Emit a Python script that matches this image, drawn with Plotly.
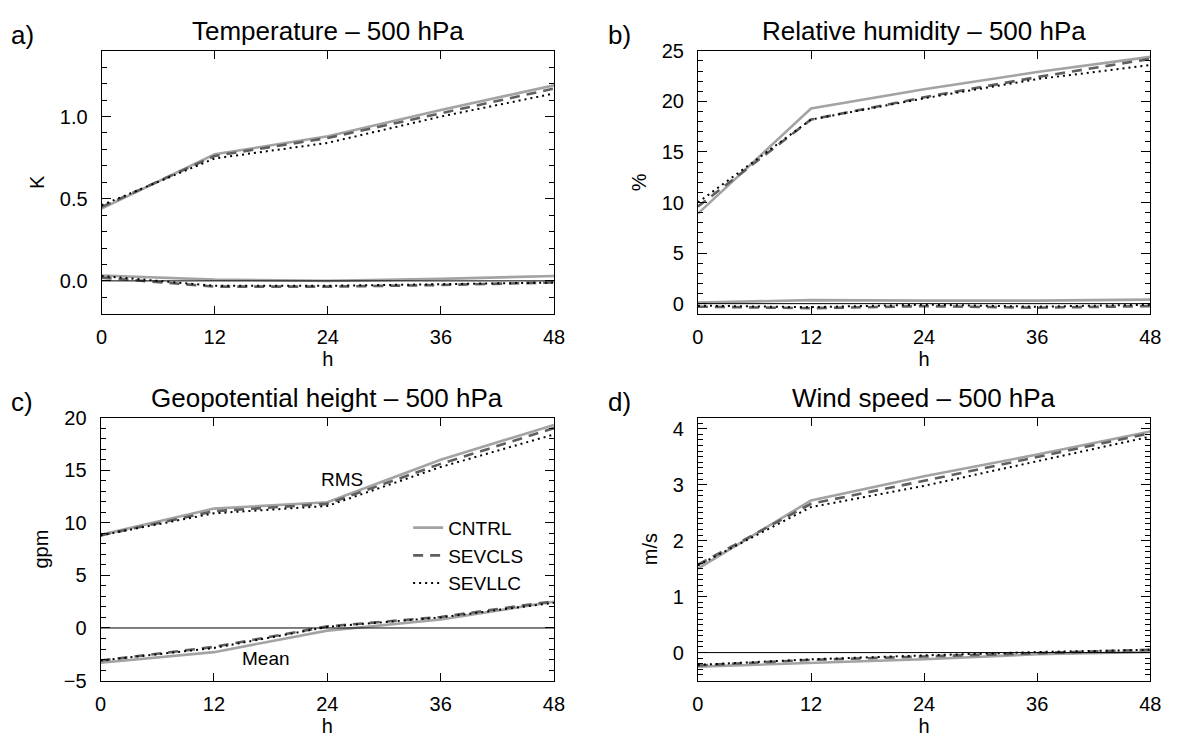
import plotly.graph_objects as go

hours = [0, 12, 24, 36, 48]
x_ticks = [0, 12, 24, 36, 48]

# a) Temperature – 500 hPa (K)
t_rms_cntrl = [0.44, 0.77, 0.88, 1.04, 1.19]
t_rms_sevcls = [0.45, 0.76, 0.87, 1.02, 1.17]
t_rms_sevllc = [0.46, 0.745, 0.84, 1.00, 1.14]
t_mean_cntrl = [0.033, 0.008, 0.0, 0.012, 0.03]
t_mean_sevcls = [0.02, -0.035, -0.035, -0.025, -0.01]
t_mean_sevllc = [0.03, -0.03, -0.03, -0.02, -0.01]

# b) Relative humidity – 500 hPa (%)
rh_rms_cntrl = [8.9, 19.3, 21.2, 22.9, 24.4]
rh_rms_sevcls = [9.6, 18.2, 20.4, 22.4, 24.2]
rh_rms_sevllc = [10.0, 18.2, 20.3, 22.2, 23.6]
rh_mean_cntrl = [0.1, 0.35, 0.3, 0.3, 0.4]
rh_mean_sevcls = [-0.3, -0.45, -0.25, -0.4, -0.25]
rh_mean_sevllc = [-0.2, -0.35, -0.1, -0.3, -0.1]

# c) Geopotential height – 500 hPa (gpm)
z_rms_cntrl = [8.85, 11.35, 11.95, 16.0, 19.3]
z_rms_sevcls = [8.8, 11.1, 11.8, 15.6, 19.0]
z_rms_sevllc = [8.8, 10.9, 11.6, 15.3, 18.4]
z_mean_cntrl = [-3.3, -2.3, -0.25, 0.8, 2.5]
z_mean_sevcls = [-3.1, -1.8, 0.15, 1.05, 2.55]
z_mean_sevllc = [-3.1, -1.9, 0.1, 1.0, 2.4]

# d) Wind speed – 500 hPa (m/s)
w_rms_cntrl = [1.5, 2.72, 3.15, 3.54, 3.95]
w_rms_sevcls = [1.57, 2.66, 3.07, 3.5, 3.92]
w_rms_sevllc = [1.56, 2.6, 2.98, 3.42, 3.86]
w_mean_cntrl = [-0.25, -0.19, -0.12, -0.03, 0.01]
w_mean_sevcls = [-0.23, -0.13, -0.07, -0.005, 0.05]
w_mean_sevllc = [-0.22, -0.12, -0.05, 0.01, 0.05]

experiments = ["CNTRL", "SEVCLS", "SEVLLC"]
panel_titles = ["Temperature – 500 hPa", "Relative humidity – 500 hPa",
                "Geopotential height – 500 hPa", "Wind speed – 500 hPa"]
panel_letters = ["a)", "b)", "c)", "d)"]
y_units = ["K", "%", "gpm", "m/s"]
y_ranges = [[-0.2, 1.4], [-1, 25], [-5, 20], [-0.5, 4.2]]
y_dticks = [0.5, 5, 5, 1]
y_minor = [0.1, 1, 1, 0.1]
y_formats = [".1f", "d", "d", "d"]

panels = [
    [[t_rms_cntrl, t_rms_sevcls, t_rms_sevllc], [t_mean_cntrl, t_mean_sevcls, t_mean_sevllc]],
    [[rh_rms_cntrl, rh_rms_sevcls, rh_rms_sevllc], [rh_mean_cntrl, rh_mean_sevcls, rh_mean_sevllc]],
    [[z_rms_cntrl, z_rms_sevcls, z_rms_sevllc], [z_mean_cntrl, z_mean_sevcls, z_mean_sevllc]],
    [[w_rms_cntrl, w_rms_sevcls, w_rms_sevllc], [w_mean_cntrl, w_mean_sevcls, w_mean_sevllc]],
]

W, H = 1182, 743
FONT = "Liberation Sans, Arial, Helvetica, sans-serif"

styles = {
    "CNTRL": dict(color="#a3a3a3", width=2.6, dash="solid"),
    "SEVCLS": dict(color="#5f5f5f", width=2.6, dash="10px,7px"),
    "SEVLLC": dict(color="#000000", width=2.0, dash="2px,4px"),
}

# pixel boxes of the four plot areas (left, right, top, bottom)
boxes = [(97, 556, 41, 312), (702, 1161, 41, 312),
         (96, 556, 419, 690), (702, 1161, 419, 690)]

fig = go.Figure()
layout = dict(width=W, height=H, margin=dict(l=0, r=0, t=0, b=0),
              paper_bgcolor="white", plot_bgcolor="white",
              font=dict(family=FONT, size=20, color="black"),
              showlegend=True)
annotations = []
shapes = []

for i in range(4):
    l, r, t, b = boxes[i]
    xd = [l / W, r / W]
    yd = [1 - b / H, 1 - t / H]
    sx = "" if i == 0 else str(i + 1)
    xa, ya = "x" + sx, "y" + sx
    for kind in range(2):
        for j, name in enumerate(experiments):
            st = styles[name]
            fig.add_trace(go.Scatter(
                x=hours, y=panels[i][kind][j], mode="lines", name=name,
                xaxis=xa, yaxis=ya, legendgroup=name,
                showlegend=(i == 2 and kind == 0),
                line=dict(color=st["color"], width=st["width"], dash=st["dash"]),
                hoverinfo="skip"))
    axis_common = dict(showgrid=False, zeroline=False, showline=True,
                       linecolor="black", linewidth=1, mirror="allticks",
                       ticks="inside", tickcolor="black", tickwidth=1,
                       tickfont=dict(size=20, family=FONT))
    layout["xaxis" + sx] = dict(axis_common, domain=xd, anchor=ya,
                                range=[0, 48], tickvals=x_ticks, ticklen=8,
                                ticklabelstandoff=5,
                                title=dict(text="h", font=dict(size=20), standoff=0))
    layout["yaxis" + sx] = dict(axis_common, domain=yd, anchor=xa,
                                range=y_ranges[i], dtick=y_dticks[i], tick0=0,
                                tickformat=y_formats[i], ticklen=9,
                                ticklabelstandoff=9,
                                minor=dict(dtick=y_minor[i], tick0=0, ticks="inside",
                                           ticklen=5, tickcolor="black", tickwidth=1),
                                title=dict(text=y_units[i], font=dict(size=20), standoff=9))
    # zero reference line
    shapes.append(dict(type="line", xref=xa + " domain", yref=ya, x0=0, x1=1,
                       y0=0, y1=0, line=dict(color="black", width=1)))
    # panel title
    annotations.append(dict(text=panel_titles[i], xref="paper", yref="paper",
                            x=(l + r) / 2 / W, y=1 - (t - 20) / H,
                            xanchor="center", yanchor="middle", showarrow=False,
                            font=dict(size=26, family=FONT)))
    annotations.append(dict(text=panel_letters[i], xref="paper", yref="paper",
                            x=(3 if i % 2 == 0 else 609) / W, y=1 - (t - 16) / H,
                            xanchor="left", yanchor="middle", showarrow=False,
                            font=dict(size=26, family=FONT)))

annotations.append(dict(text="RMS", xref="x3", yref="y3", x=25.6, y=14.1,
                        showarrow=False, font=dict(size=19, family=FONT)))
annotations.append(dict(text="Mean", xref="x3", yref="y3", x=17.5, y=-2.9,
                        showarrow=False, font=dict(size=19, family=FONT)))

layout["annotations"] = annotations
layout["shapes"] = shapes
layout["legend"] = dict(x=408 / W, y=1 - 513 / H, xanchor="left", yanchor="top",
                        bgcolor="rgba(0,0,0,0)", borderwidth=0,
                        font=dict(size=19, family=FONT), tracegroupgap=0,
                        itemwidth=30)
fig.update_layout(**layout)
fig.write_html("out.html")
